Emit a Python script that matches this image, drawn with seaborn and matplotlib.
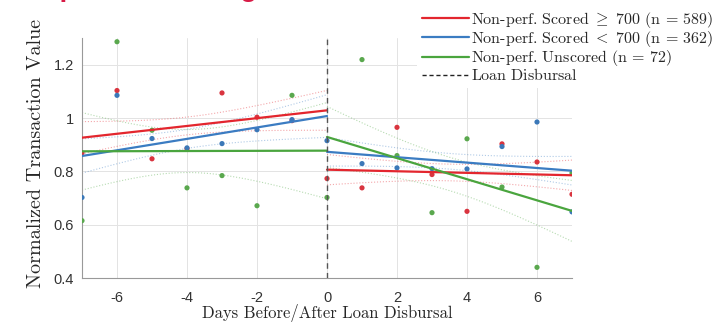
import numpy as np
import pandas as pd
import matplotlib
matplotlib.use("Agg")
import matplotlib.pyplot as plt
import seaborn as sns
from matplotlib.lines import Line2D

# valeurs (moyennes journalières normalisées)
days = [-7, -6, -5, -4, -3, -2, -1, 0, 1, 2, 3, 4, 5, 6, 7]
scored_high = [0.869, 1.103, 0.847, 0.885, 1.094, 1.003, 0.990, 0.773,
               0.738, 0.965, 0.788, 0.650, 0.903, 0.835, 0.714]
scored_low = [0.702, 1.085, 0.923, 0.888, 0.904, 0.956, 0.994, 0.915,
              0.829, 0.813, 0.810, 0.809, 0.893, 0.985, 0.648]
unscored = [0.615, 1.286, 0.954, 0.738, 0.784, 0.671, 1.085, 0.702,
            1.219, 0.859, 0.645, 0.922, 0.741, 0.440, 0.794]

labels = ["Non-perf. Scored$\\ \\geq\\ $700 (n = 589)",
          "Non-perf. Scored$\\ <\\ $700 (n = 362)",
          "Non-perf. Unscored (n$\\ $= 72)"]
line_colors = ["#e3262e", "#3b7cc2", "#4aa53e"]
dot_colors = ["#d9343f", "#3b78b8", "#5aa84e"]

df = pd.DataFrame({"day": days * 3,
                   "value": scored_high + scored_low + unscored,
                   "group": np.repeat(labels, len(days))})

sns.set_style("white")
plt.rcParams["font.family"] = ["cmr10", "DejaVu Serif"]
plt.rcParams["mathtext.fontset"] = "cm"
plt.rcParams["axes.unicode_minus"] = False
plt.rcParams["axes.formatter.use_mathtext"] = False

fig = plt.figure(figsize=(7.17, 3.31), dpi=100)
ax = fig.add_axes([82 / 717, 53 / 331, 490 / 717, 240 / 331])

sns.scatterplot(data=df, x="day", y="value", hue="group", palette=dot_colors,
                s=14, linewidth=0, legend=False, ax=ax, zorder=3)

# régressions avant (-7..-1) et après (0..7) le décaissement
segments = [(-7, -1, -7, 0), (0, 7, 0, 7)]
for lab, col in zip(labels, line_colors):
    sub = df[df["group"] == lab]
    for lo, hi, x0, x1 in segments:
        s = sub[(sub["day"] >= lo) & (sub["day"] <= hi)]
        x, y = s["day"].values, s["value"].values
        b, a = np.polyfit(x, y, 1)
        res = y - (a + b * x)
        sd = np.sqrt(np.sum(res ** 2) / (len(x) - 2))
        xs = np.linspace(x0, x1, 50)
        fit = a + b * xs
        se = 0.8 * sd * np.sqrt(1 / len(x) + (xs - x.mean()) ** 2 / np.sum((x - x.mean()) ** 2))
        sns.lineplot(x=xs, y=fit, color=col, lw=1.6, ax=ax, zorder=4)
        for band in (fit - se, fit + se):
            ax.plot(xs, band, color=col, lw=0.8, ls=":", alpha=0.4, zorder=2)

ax.axvline(0, color="#555555", lw=1.0, ls=(0, (4, 3)), zorder=5)

ax.set_xlim(-7, 7)
ax.set_ylim(0.4, 1.3)
ax.set_xticks([-6, -4, -2, 0, 2, 4, 6])
ax.set_yticks([0.4, 0.6, 0.8, 1.0, 1.2])
ax.set_yticklabels(["0.4", "0.6", "0.8", "1", "1.2"])
for t in ax.get_xticklabels() + ax.get_yticklabels():
    t.set_family("Liberation Sans")
    t.set_fontsize(10.5)
    t.set_color("#333333")
ax.tick_params(direction="in", length=4, width=0.6, color="#888888")
ax.tick_params(axis="x", pad=9)
ax.tick_params(axis="y", pad=6)
ax.grid(True, color="#e3e3e3", lw=0.7)
sns.despine(ax=ax)
for sp in ["left", "bottom"]:
    ax.spines[sp].set_color("#999999")
    ax.spines[sp].set_linewidth(0.8)

ax.set_xlabel("Days Before/After Loan Disbursal", fontsize=12)
ax.xaxis.set_label_coords(0.5, -0.11)
ax.set_ylabel("Normalized Transaction Value", fontsize=14.5)
ax.yaxis.set_label_coords(-0.0755, 0.52)

handles = [Line2D([], [], color=c, lw=1.6) for c in line_colors]
handles.append(Line2D([], [], color="#222222", lw=1.0, ls=(0, (3, 2))))
leg = fig.legend(handles, labels + ["Loan$\\ $Disbursal"], loc="upper left",
                 bbox_to_anchor=(417 / 717, 1 - 5 / 331), fontsize=11.5,
                 frameon=True, handlelength=2.95, handletextpad=0.1,
                 labelspacing=-0.05, borderpad=0.3, borderaxespad=0)
leg.get_frame().set_edgecolor("none")
leg.get_frame().set_facecolor("white")
leg.get_frame().set_alpha(1)

# titre de la diapositive, coupé en haut
fig.text(-0.046, 1 + 3.5 / 331, "Decomposed Lending", color="#d81b46",
         fontsize=20, fontweight="bold", family="Liberation Sans", va="baseline")

fig.savefig("out.png", dpi=100)
